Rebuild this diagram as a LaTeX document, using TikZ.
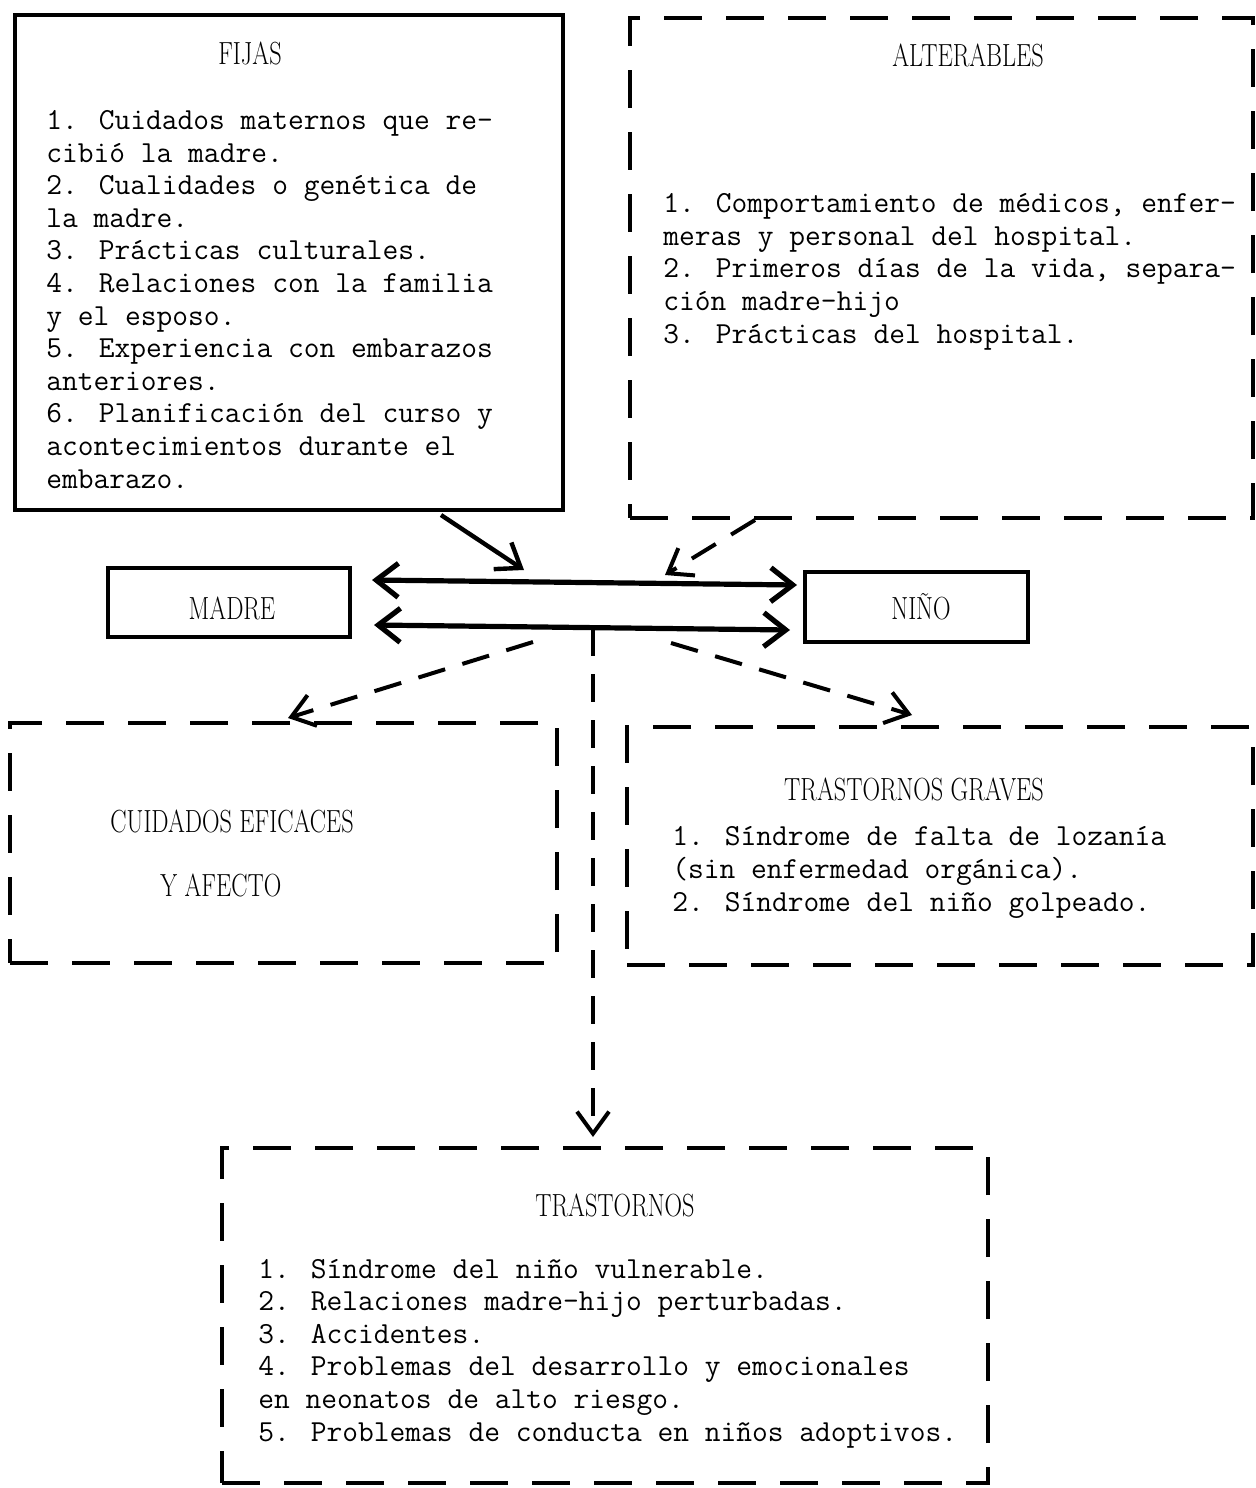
\documentclass[tikz,border=0pt]{standalone}
\usepackage{graphicx}
\usetikzlibrary{arrows.meta,fit}

% condensed capitals for the box titles
\newcommand{\hd}[1]{\scalebox{0.76}[1]{#1}}

\begin{document}
\begin{tikzpicture}[
  x=0.5pt, y=-0.5pt,
  solidbox/.style={draw, line width=2.2pt, inner sep=0pt},
  dashbox/.style={draw, line width=2pt, dash pattern=on 19pt off 12pt, inner sep=0pt},
  head/.style={inner sep=0pt, anchor=base, font=\rmfamily\fontsize{16}{18}\selectfont},
  % multi-line: base is the last line
  body/.style={align=left, inner sep=0pt, anchor=base west,
    font=\ttfamily\fontsize{15.3}{16.3}\selectfont},
  link/.style={line width=2.6pt, {Straight Barb[length=11pt,width=17pt]}-{Straight Barb[length=11pt,width=17pt]}},
  push/.style={line width=2.2pt, -{Straight Barb[length=11pt,width=16pt]}},
  maybe/.style={line width=2pt, dash pattern=on 14pt off 9pt, -{Straight Barb[length=11pt,width=16pt]}}
]
  \useasboundingbox (0,0) rectangle (1256,1488);

  % Boxes
  \node[solidbox, fit={(15,15) (563,510)}] (fijas) {};
  \node[dashbox, fit={(630,18) (1253,518)}] (alter) {};
  \node[solidbox, fit={(108,568) (350,637)}] (madre) {};
  \node[solidbox, fit={(805,572) (1028,642)}] (nino) {};
  \node[dashbox, fit={(10,723) (557,963)}] (eficaz) {};
  \node[dashbox, fit={(627,727) (1253,965)}] (graves) {};
  \node[dashbox, fit={(222,1148) (988,1483)}] (trast) {};

  % Texts
  \node[head] (fijasT) at (250,64) {\hd{FIJAS}};
  \node[body] (fijasL) at (46,488) {1. Cuidados maternos que re-\\cibió la madre.\\
    2. Cualidades o genética de\\la madre.\\3. Prácticas culturales.\\
    4. Relaciones con la familia\\y el esposo.\\5. Experiencia con embarazos\\
    anteriores.\\6. Planificación del curso y\\acontecimientos durante el\\embarazo.};

  \node[head] (alterT) at (968,66) {\hd{ALTERABLES}};
  \node[body] (alterL) at (663,343) {1. Comportamiento de médicos, enfer-\\
    meras y personal del hospital.\\2. Primeros días de la vida, separa-\\
    ción madre-hijo\\3. Prácticas del hospital.};

  \node[head] (madreT) at (232,619) {\hd{MADRE}};
  \node[head] (ninoT) at (921,619) {\hd{NIÑO}};

  \node[head, anchor=base west] (eficazT) at (110,832) {\hd{CUIDADOS EFICACES}};
  \node[head, anchor=base west] (eficazU) at (160,896) {\hd{Y AFECTO}};

  \node[head] (gravesT) at (914,800) {\hd{TRASTORNOS GRAVES}};
  \node[body] (gravesL) at (672,911) {1. Síndrome de falta de lozanía\\
    (sin enfermedad orgánica).\\2. Síndrome del niño golpeado.};

  \node[head] (trastT) at (615,1216) {\hd{TRASTORNOS}};
  \node[body] (trastL) at (258,1441) {1. Síndrome del niño vulnerable.\\
    2. Relaciones madre-hijo perturbadas.\\3. Accidentes.\\
    4. Problemas del desarrollo y emocionales\\en neonatos de alto riesgo.\\
    5. Problemas de conducta en niños adoptivos.};

  % Connector ends
  \coordinate (fijasOut) at (441,515);
  \coordinate (fijasIn) at (524,570);
  \coordinate (alterOut) at (755,520);
  \coordinate (alterIn) at (665,575);
  \coordinate (topL) at (372,580);
  \coordinate (topR) at (797,585);
  \coordinate (lowL) at (374,625);
  \coordinate (lowR) at (790,630);
  \coordinate (eficazOut) at (533,642);
  \coordinate (eficazIn) at (288,718);
  \coordinate (gravesOut) at (671,643);
  \coordinate (gravesIn) at (912,715);
  \coordinate (trastOut) at (593,628);
  \coordinate (trastIn) at (593,1137);

  % Mother <-> child
  \draw[link] (topL) -- (topR);
  \draw[link] (lowL) -- (lowR);

  % Influences and outcomes
  \draw[push] (fijasOut) -- (fijasIn);
  \draw[maybe] (alterOut) -- (alterIn);
  \draw[maybe] (eficazOut) -- (eficazIn);
  \draw[maybe] (gravesOut) -- (gravesIn);
  \draw[maybe] (trastOut) -- (trastIn);

\end{tikzpicture}
\end{document}
